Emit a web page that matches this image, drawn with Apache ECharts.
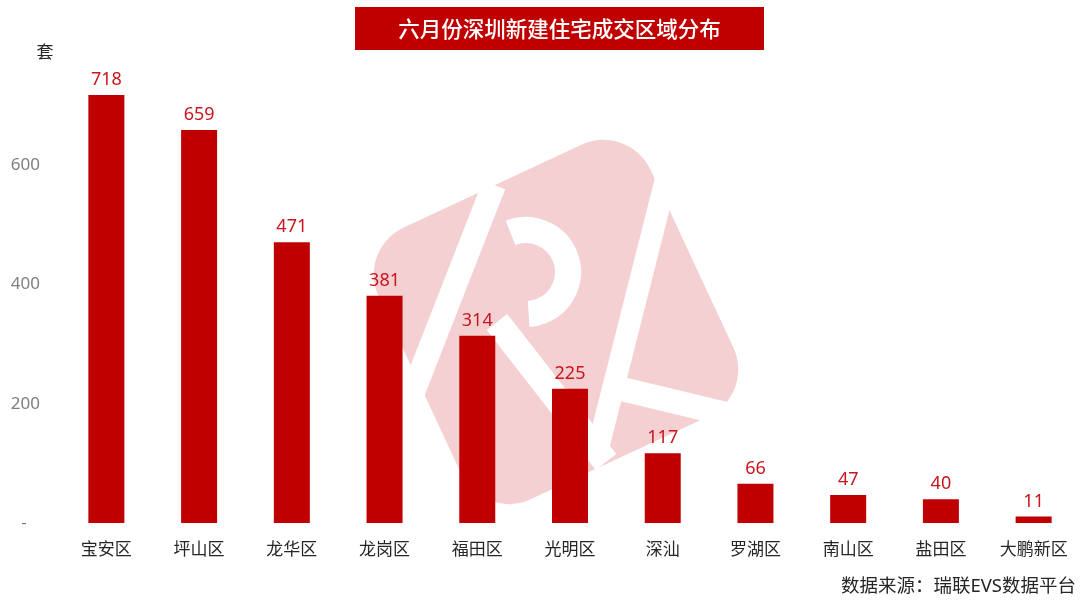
<!DOCTYPE html>
<html><head><meta charset="utf-8">
<script src="https://cdn.jsdelivr.net/npm/echarts@6/dist/echarts.min.js"></script>
<style>html,body{margin:0;padding:0;background:#fff}#c{width:1080px;height:600px}</style>
</head><body><div id="c"></div>
<script>
const categories = ['宝安区','坪山区','龙华区','龙岗区','福田区','光明区','深汕','罗湖区','南山区','盐田区','大鹏新区'];
const values = [718,659,471,381,314,225,117,66,47,40,11];
const yTicks = [0,200,400,600,800];
const titleText = '六月份深圳新建住宅成交区域分布';
const sourceText = '数据来源：瑞联EVS数据平台';
const unitText = '套';

const FONT = '"Noto Sans", "Noto Sans CJK SC", sans-serif';
const CJK = '"Noto Sans CJK SC", "Noto Sans", sans-serif';
const RED = '#c00000';
const chart = echarts.init(document.getElementById('c'));

const pink = '#f5d0d2';
const W = '#fff';
chart.setOption({
  backgroundColor: '#fff',
  animation: false,
  grid: { left: 60, top: 46, width: 1023, height: 477, containLabel: false },
  xAxis: {
    type: 'category', data: categories,
    axisLine: { show: false }, axisTick: { show: false },
    axisLabel: { color: '#262626', fontSize: 17, fontFamily: CJK, margin: 17 }
  },
  yAxis: {
    type: 'value', min: yTicks[0], max: yTicks[yTicks.length-1], interval: 200,
    splitLine: { show: false }, axisLine: { show: false }, axisTick: { show: false },
    axisLabel: {
      color: '#7f7f7f', fontSize: 17, fontFamily: FONT, align: 'right', margin: 20,
      formatter: v => v === 0 ? '-   ' : (v === 800 ? '' : String(v))
    }
  },
  series: [{
    type: 'bar', data: values, barWidth: 36, z: 5,
    itemStyle: { color: RED },
    label: { show: true, position: 'top', distance: 6, color: '#c8161d', fontSize: 18, fontFamily: FONT }
  }],
  graphic: [
    { type: 'group', z: 0, children: [
      { type: 'rect', x: 556, y: 322, rotation: 25*Math.PI/180,
        shape: { x: -150, y: -150, width: 300, height: 300, r: 52 }, style: { fill: pink }, z: 0 },
      { type: 'line', shape: { x1: 494, y1: 185, x2: 408, y2: 405 }, style: { stroke: W, lineWidth: 24 }, z: 1 },
      { type: 'line', shape: { x1: 408, y1: 405, x2: 440, y2: 470 }, style: { stroke: W, lineWidth: 24 }, z: 1 },
      { type: 'arc', shape: { cx: 526, cy: 272, r: 42, startAngle: -Math.PI*0.62, endAngle: Math.PI*0.48 }, style: { stroke: W, lineWidth: 26, fill: null }, z: 1 },
      { type: 'line', shape: { x1: 497, y1: 322, x2: 606, y2: 462 }, style: { stroke: W, lineWidth: 26 }, z: 1 },
      { type: 'line', shape: { x1: 667, y1: 175, x2: 598, y2: 448 }, style: { stroke: W, lineWidth: 22 }, z: 1 },
      { type: 'line', shape: { x1: 605, y1: 385, x2: 755, y2: 421 }, style: { stroke: W, lineWidth: 24 }, z: 1 }
    ]},
    { type: 'rect', left: 355, top: 7, shape: { width: 409, height: 43 }, style: { fill: RED }, z: 10 },
    { type: 'text', x: 559.5, y: 28.5, style: { text: titleText, fill: '#fff', font: '500 21.5px ' + CJK, textAlign: 'center', textVerticalAlign: 'middle' }, z: 11 },
    { type: 'text', x: 45, y: 52, style: { text: unitText, fill: '#262626', font: '17px ' + CJK, textAlign: 'center', textVerticalAlign: 'middle' }, z: 11 },
    { type: 'text', x: 1076, y: 587, style: { text: sourceText, fill: '#262626', font: '18.5px ' + FONT, textAlign: 'right', textVerticalAlign: 'middle' }, z: 11 }
  ]
});
</script></body></html>
